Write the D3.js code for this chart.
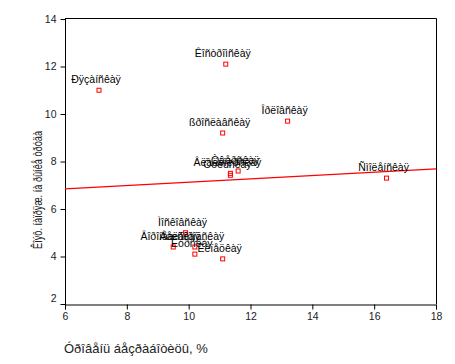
<!DOCTYPE html>
<html><head><meta charset="utf-8">
<script src="https://cdn.jsdelivr.net/npm/d3@7"></script>
<style>
html,body{margin:0;padding:0;background:#fff;}
svg{display:block;font-family:Arial,"Liberation Sans",sans-serif;}
</style></head>
<body><svg id="c" width="455" height="364"></svg>
<script>
// Data (labels shown as in the reference)
const regionNames = ["Ðÿçàíñêàÿ","Êîñòðîìñêàÿ","ßðîñëàâñêàÿ","Îðëîâñêàÿ","Ñìîëåíñêàÿ",
  "Âëàäèìèðñêàÿ","Òóëüñêàÿ","Òâåðñêàÿ","Ìîñêîâñêàÿ","Âîðîíåæñêàÿ","Áåëãîðîäñêàÿ","Êóðñêàÿ","Ëèïåöêàÿ"];
const unemployment = [7.1, 11.2, 11.1, 13.2, 16.4, 11.35, 11.35, 11.6, 9.9, 9.5, 10.2, 10.2, 11.1];
const tension      = [11.0, 12.1, 9.2, 9.7, 7.3, 7.5, 7.42, 7.6, 5.0, 4.4, 4.4, 4.1, 3.9];
const xTicks = [6, 8, 10, 12, 14, 16, 18];
const yTicks = [2, 4, 6, 8, 10, 12, 14];
const xTitle = "Óðîâåíü áåçðàáîòèöû, %";
const yTitle = "Êîýô. íàïðÿæ. íà ðûíêå òðóäà";

const svg = d3.select("#c");
const x = d3.scaleLinear().domain([6, 18]).range([65, 436]);
const y = d3.scaleLinear().domain([2, 14]).range([304, 19]);

// frame (top and right)
svg.append("path").attr("d", `M${x(6)},18.5H436.5V${y(2)}`)
  .attr("fill","none").attr("stroke","#000").attr("stroke-width",1);

// axes
const gx = svg.append("g").attr("transform","translate(0,304.5)")
  .call(d3.axisBottom(x).tickValues(xTicks).tickSize(5).tickPadding(3).tickFormat(d3.format("d")));
const gy = svg.append("g").attr("transform","translate(65.5,0)")
  .call(d3.axisLeft(y).tickValues(yTicks).tickSize(5).tickPadding(4).tickFormat(d3.format("d")));
[gx, gy].forEach(g => {
  g.select(".domain").attr("stroke","#000");
  g.selectAll(".tick line").attr("stroke","#000");
  g.selectAll("text").attr("font-size", 10.5).attr("fill","#222").attr("font-family","Arial, 'Liberation Sans', sans-serif");
});
gy.select(".domain").attr("d", `M0,18V309`);
gy.selectAll(".tick").filter(d => d === 2).select("text").attr("dy","-0.2em");

// regression line computed from data
const mx = d3.mean(unemployment), my = d3.mean(tension);
let sxy = 0, sxx = 0;
unemployment.forEach((v,i) => { sxy += (v-mx)*(tension[i]-my); sxx += (v-mx)*(v-mx); });
const b = sxy / sxx, a = my - b*mx;
svg.append("line")
  .attr("x1", x(6)).attr("y1", y(a + b*6))
  .attr("x2", x(18)).attr("y2", y(a + b*18))
  .attr("stroke","#ff0000").attr("stroke-width",1.2);

// points
const pts = regionNames.map((n,i) => ({name:n, ux:unemployment[i], ty:tension[i]}));
svg.append("g").selectAll("rect").data(pts).join("rect")
  .attr("x", d => x(d.ux) - 2).attr("y", d => y(d.ty) - 2)
  .attr("width", 4).attr("height", 4)
  .attr("fill","none").attr("stroke","#ff0000").attr("stroke-width",1);

// labels
svg.append("g").selectAll("text").data(pts).join("text")
  .attr("x", d => x(d.ux) - 3).attr("y", d => y(d.ty) - 7)
  .attr("text-anchor","middle").attr("font-size",10.5).attr("fill","#000")
  .text(d => d.name);

// titles
svg.append("text").attr("x", 64).attr("y", 353).attr("font-size", 13).attr("fill","#222").text(xTitle);
svg.append("text").attr("transform","translate(42,190) rotate(-90)")
  .attr("text-anchor","middle").attr("font-size", 13.5).attr("fill","#222")
  .attr("textLength", 118).attr("lengthAdjust","spacingAndGlyphs")
  .text(yTitle);
</script></body></html>
